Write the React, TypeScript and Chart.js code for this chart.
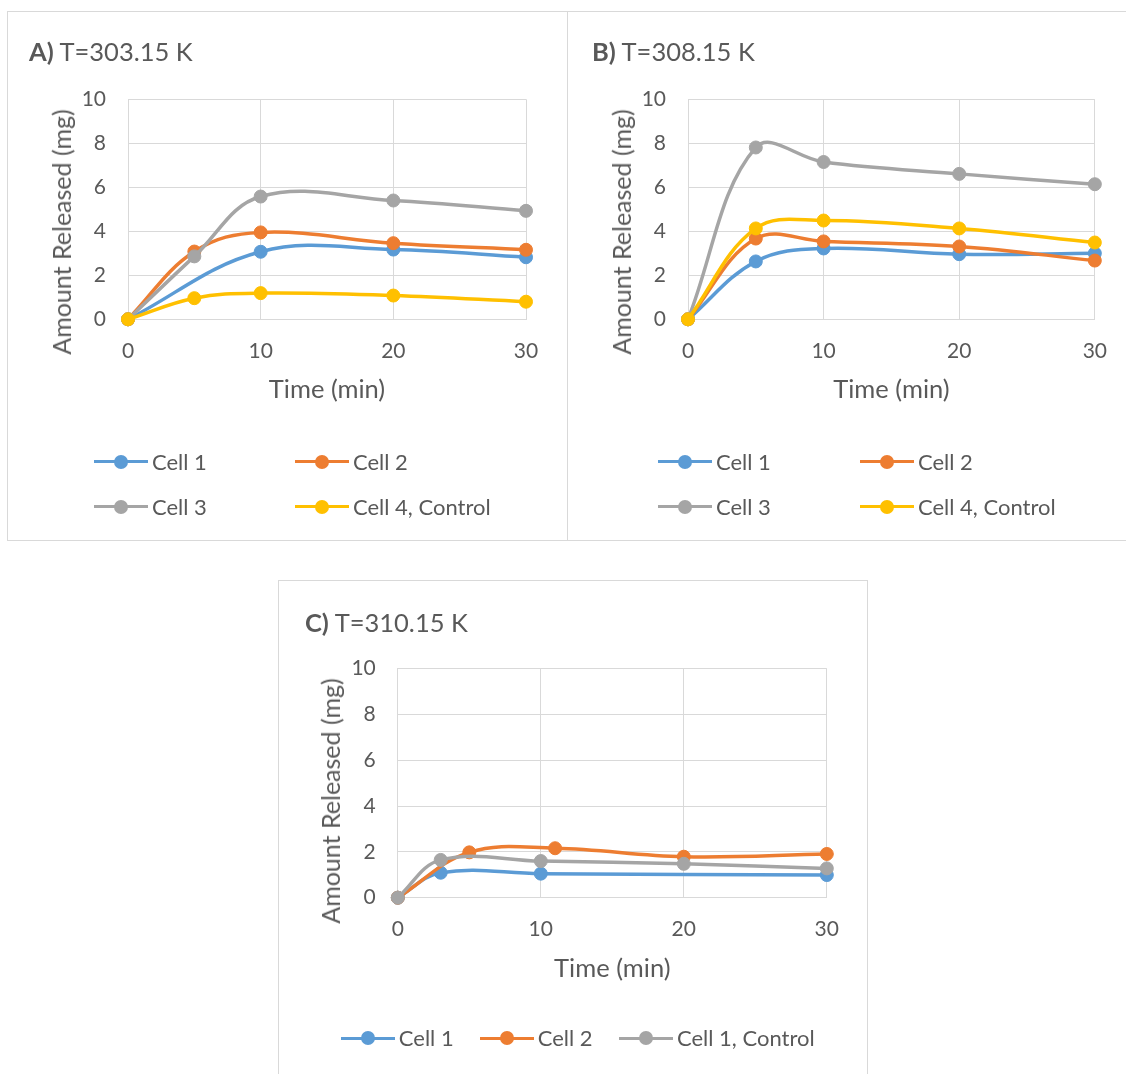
import React, { useEffect, useRef } from "react";
import { Chart, registerables } from "chart.js";

Chart.register(...registerables);

const FONT = "Lato, 'Open Sans', sans-serif";
const TEXT = "#595959";
const GRID = "#d9d9d9";
const BLUE = "#5B9BD5";
const ORANGE = "#ED7D31";
const GRAY = "#A5A5A5";
const YELLOW = "#FFC000";

// Shared axis ticks
const xTicks = [0, 10, 20, 30];
const yTicks = [0, 2, 4, 6, 8, 10];

// A) T=303.15 K
const timeA = [0, 5, 10, 20, 30];
const timeA1 = [0, 10, 20, 30];
const a1 = [0, 3.07, 3.17, 2.82];
const a2 = [0, 3.08, 3.95, 3.46, 3.16];
const a3 = [0, 2.86, 5.58, 5.4, 4.93];
const a4 = [0, 0.96, 1.19, 1.08, 0.8];

// B) T=308.15 K
const timeB = [0, 5, 10, 20, 30];
const b1 = [0, 2.63, 3.22, 2.96, 3.0];
const b2 = [0, 3.67, 3.54, 3.31, 2.67];
const b3 = [0, 7.81, 7.15, 6.61, 6.14];
const b4 = [0, 4.13, 4.49, 4.13, 3.49];

// C) T=310.15 K
const timeC1 = [0, 3, 10, 30];
const c1 = [0, 1.09, 1.05, 0.99];
const timeC2 = [0, 5, 11, 20, 30];
const c2 = [0, 1.98, 2.16, 1.79, 1.91];
const timeC3 = [0, 3, 10, 20, 30];
const c3 = [0, 1.65, 1.6, 1.48, 1.28];

type Series = { label: string; times: number[]; values: number[]; color: string };

const seriesA: Series[] = [
  { label: "Cell 1", times: timeA1, values: a1, color: BLUE },
  { label: "Cell 2", times: timeA, values: a2, color: ORANGE },
  { label: "Cell 3", times: timeA, values: a3, color: GRAY },
  { label: "Cell 4, Control", times: timeA, values: a4, color: YELLOW },
];
const seriesB: Series[] = [
  { label: "Cell 1", times: timeB, values: b1, color: BLUE },
  { label: "Cell 2", times: timeB, values: b2, color: ORANGE },
  { label: "Cell 3", times: timeB, values: b3, color: GRAY },
  { label: "Cell 4, Control", times: timeB, values: b4, color: YELLOW },
];
const seriesC: Series[] = [
  { label: "Cell 1", times: timeC1, values: c1, color: BLUE },
  { label: "Cell 2", times: timeC2, values: c2, color: ORANGE },
  { label: "Cell 1, Control", times: timeC3, values: c3, color: GRAY },
];

type PanelProps = {
  series: Series[];
  box: { left: number; top: number; width: number; height: number; borders: string[] };
  canvas: { left: number; top: number; width: number; height: number };
  layout: { yW: number; padTop: number; padRight: number; padBottom: number; xH: number };
  title: { prefix: string; text: string; x: number; y: number };
  yTitle: { cx: number; cy: number };
  legend: { x: number; y: number }[];
};

function Panel(p: PanelProps) {
  const ref = useRef<HTMLCanvasElement | null>(null);
  useEffect(() => {
    if (!ref.current) return;
    const chart = new Chart(ref.current, {
      type: "scatter",
      data: {
        datasets: p.series.map((s, i) => ({
          label: s.label,
          data: s.times.map((t, j) => ({ x: t, y: s.values[j] })),
          showLine: true,
          borderColor: s.color,
          backgroundColor: s.color,
          borderWidth: 3.5,
          pointRadius: 6.5,
          pointHoverRadius: 6.5,
          pointBorderWidth: 1,
          pointBorderColor: s.color,
          pointBackgroundColor: s.color,
          tension: 0.38,
          clip: false,
          order: -i,
        })),
      },
      options: {
        animation: false,
        responsive: false,
        maintainAspectRatio: false,
        events: [],
        layout: {
          padding: { left: 0, top: p.layout.padTop, right: p.layout.padRight, bottom: p.layout.padBottom },
        },
        plugins: { legend: { display: false }, title: { display: false }, tooltip: { enabled: false } },
        scales: {
          x: {
            type: "linear",
            min: 0,
            max: 30,
            afterBuildTicks: (scale: any) => {
              scale.ticks = xTicks.map((v) => ({ value: v }));
            },
            afterFit: (scale: any) => {
              scale.height = p.layout.xH;
            },
            grid: { color: GRID, lineWidth: 1, drawTicks: false },
            border: { display: true, color: GRID, width: 1 },
            ticks: { color: TEXT, font: { family: FONT, size: 21, lineHeight: 1.2 }, padding: 19, maxRotation: 0, autoSkip: false },
            title: {
              display: true,
              text: "Time (min)",
              color: TEXT,
              font: { family: FONT, size: 25.5, lineHeight: 1.2 },
              padding: { top: 0, bottom: 4 },
            },
          },
          y: {
            type: "linear",
            min: 0,
            max: 10,
            afterBuildTicks: (scale: any) => {
              scale.ticks = yTicks.map((v) => ({ value: v }));
            },
            afterFit: (scale: any) => {
              scale.width = p.layout.yW;
            },
            grid: { color: GRID, lineWidth: 1, drawTicks: false },
            border: { display: true, color: GRID, width: 1 },
            ticks: { color: TEXT, font: { family: FONT, size: 21, lineHeight: 1.2 }, padding: 22, autoSkip: false },
          },
        },
      } as any,
    });
    return () => chart.destroy();
  }, []);

  const b = p.box;
  const bs = (side: string) => (b.borders.includes(side) ? `1px solid ${GRID}` : "none");

  return (
    <>
      <div
        style={{
          position: "absolute",
          left: b.left,
          top: b.top,
          width: b.width,
          height: b.height,
          boxSizing: "border-box",
          borderTop: bs("top"),
          borderBottom: bs("bottom"),
          borderLeft: bs("left"),
          borderRight: bs("right"),
          background: "#fff",
        }}
      />
      <canvas
        ref={ref}
        width={p.canvas.width}
        height={p.canvas.height}
        style={{
          position: "absolute",
          left: p.canvas.left,
          top: p.canvas.top,
          width: p.canvas.width,
          height: p.canvas.height,
        }}
      />
      <div
        style={{
          position: "absolute",
          left: p.title.x,
          top: p.title.y - 16,
          height: 32,
          lineHeight: "32px",
          fontFamily: FONT,
          fontSize: 25.5,
          color: TEXT,
          whiteSpace: "nowrap",
        }}
      >
        <b>{p.title.prefix}</b> {p.title.text}
      </div>
      <div
        style={{
          position: "absolute",
          left: p.yTitle.cx,
          top: p.yTitle.cy,
          transform: "translate(-50%, -50%) rotate(-90deg)",
          fontFamily: FONT,
          fontSize: 25,
          lineHeight: "30px",
          color: TEXT,
          whiteSpace: "nowrap",
        }}
      >
        Amount Released (mg)
      </div>
      {p.series.map((s, i) => (
        <div
          key={s.label + i}
          style={{
            position: "absolute",
            left: p.legend[i].x,
            top: p.legend[i].y - 15,
            height: 30,
            display: "flex",
            alignItems: "center",
            whiteSpace: "nowrap",
          }}
        >
          <div style={{ position: "relative", width: 54, height: 14 }}>
            <div style={{ position: "absolute", left: 0, top: 5.25, width: 54, height: 3.5, background: s.color }} />
            <div
              style={{ position: "absolute", left: 20, top: 0, width: 14, height: 14, borderRadius: "50%", background: s.color }}
            />
          </div>
          <span style={{ marginLeft: 4, fontFamily: FONT, fontSize: 22, color: TEXT, lineHeight: "30px" }}>{s.label}</span>
        </div>
      ))}
    </>
  );
}

export default function App() {
  useEffect(() => {
    document.body.style.overflow = "hidden";
  }, []);
  return (
    <div>
      <Panel
        series={seriesA}
        box={{ left: 7, top: 11, width: 561, height: 530, borders: ["top", "bottom", "left", "right"] }}
        canvas={{ left: 8, top: 12, width: 559, height: 528 }}
        layout={{ yW: 120, padTop: 87.3, padRight: 41, padBottom: 130.7, xH: 90 }}
        title={{ prefix: "A)", text: "T=303.15 K", x: 29, y: 51 }}
        yTitle={{ cx: 61, cy: 231.5 }}
        legend={[
          { x: 94, y: 461.7 },
          { x: 295, y: 461.7 },
          { x: 94, y: 506.7 },
          { x: 295, y: 506.7 },
        ]}
      />
      <Panel
        series={seriesB}
        box={{ left: 568, top: 11, width: 558, height: 530, borders: ["top", "bottom"] }}
        canvas={{ left: 568, top: 12, width: 558, height: 528 }}
        layout={{ yW: 120, padTop: 87.3, padRight: 30, padBottom: 130.7, xH: 90 }}
        title={{ prefix: "B)", text: "T=308.15 K", x: 592, y: 51 }}
        yTitle={{ cx: 620.5, cy: 231.5 }}
        legend={[
          { x: 658, y: 461.7 },
          { x: 860, y: 461.7 },
          { x: 658, y: 506.7 },
          { x: 860, y: 506.7 },
        ]}
      />
      <Panel
        series={seriesC}
        box={{ left: 278, top: 580, width: 590, height: 494, borders: ["top", "left", "right"] }}
        canvas={{ left: 279, top: 581, width: 588, height: 493 }}
        layout={{ yW: 118.8, padTop: 87.7, padRight: 40.2, padBottom: 86.3, xH: 90 }}
        title={{ prefix: "C)", text: "T=310.15 K", x: 305, y: 621.5 }}
        yTitle={{ cx: 329.5, cy: 800.5 }}
        legend={[
          { x: 340.8, y: 1038.3 },
          { x: 479.7, y: 1038.3 },
          { x: 619, y: 1038.3 },
        ]}
      />
    </div>
  );
}
